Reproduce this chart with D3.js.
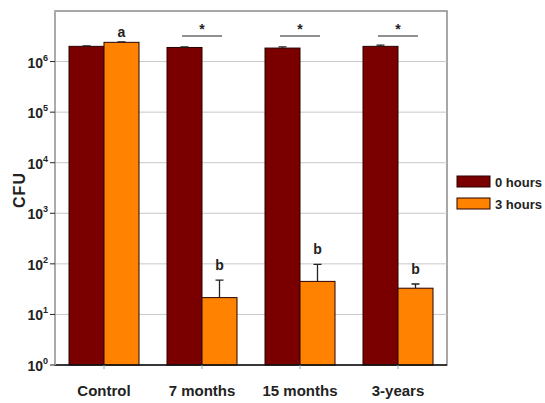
<!DOCTYPE html>
<html><head><meta charset="utf-8">
<script src="https://cdn.jsdelivr.net/npm/d3@7"></script>
<style>body{margin:0;background:#fff;} text{font-family:"Liberation Sans",Arial,sans-serif;}</style>
</head><body>
<svg id="c" width="545" height="403"></svg>
<script>
const categories = ["Control", "7 months", "15 months", "3-years"];
const seriesNames = ["0 hours", "3 hours"];
const hours0 = [2.0e6, 1.9e6, 1.85e6, 2.0e6];
const hours0Err = [0.05e6, 0.04e6, 0.1e6, 0.12e6];
const hours3 = [2.4e6, 21.5, 45, 33];
const hours3Err = [0.05e6, 26, 53, 7];
const letters = ["a", "b", "b", "b"];
const stars = ["", "*", "*", "*"];
const yTickExps = [0, 1, 2, 3, 4, 5, 6];
const colors = ["#7a0000", "#ff8200"];

const svg = d3.select("#c");
const L = 55, R = 447, T = 11, B = 365;
const x = d3.scaleBand().domain(categories).range([L, R]).paddingInner(0.2857).paddingOuter(0.1429);
const xs = d3.scaleBand().domain(seriesNames).range([0, x.bandwidth()]);
const y = d3.scaleLog().domain([1, 1e7]).range([B, T]);

// frame
svg.append("rect").attr("x", L).attr("y", T).attr("width", R - L).attr("height", B - T)
  .attr("fill", "none").attr("stroke", "#8a8a8a").attr("stroke-width", 1.5);
// gridlines
svg.append("g").selectAll("line").data(yTickExps.slice(1)).join("line")
  .attr("x1", L).attr("x2", R).attr("y1", d => y(Math.pow(10, d))).attr("y2", d => y(Math.pow(10, d)))
  .attr("stroke", "#c8c8c8").attr("stroke-width", 1);

// bars
const data = categories.map((c, i) => ({c, vals: [
  {s: seriesNames[0], v: hours0[i], e: hours0Err[i]},
  {s: seriesNames[1], v: hours3[i], e: hours3Err[i]}]}));
const g = svg.append("g").selectAll("g").data(data).join("g").attr("transform", d => `translate(${x(d.c)},0)`);
g.selectAll("rect").data(d => d.vals).join("rect")
  .attr("x", d => xs(d.s)).attr("width", xs.bandwidth())
  .attr("y", d => y(d.v)).attr("height", d => B - y(d.v))
  .attr("fill", (d, i) => colors[i]).attr("stroke", "#2a0000").attr("stroke-width", 1);
// error bars
g.selectAll("path.err").data(d => d.vals).join("path").attr("class", "err")
  .attr("d", d => {
    const cx = xs(d.s) + xs.bandwidth() / 2, y0 = y(d.v), y1 = y(d.v + d.e);
    return `M${cx},${y0}V${y1}M${cx - 4},${y1}H${cx + 4}`;
  }).attr("stroke", "#222").attr("stroke-width", 1.3).attr("fill", "none");

// letters
svg.append("g").selectAll("text").data(categories).join("text")
  .attr("x", c => x(c) + xs(seriesNames[1]) + xs.bandwidth() / 2)
  .attr("y", (c, i) => y(hours3[i] + hours3Err[i]) - (letters[i] === "a" ? 5 : 10))
  .attr("text-anchor", "middle").attr("font-size", 14).attr("font-weight", "bold").attr("fill", "#222")
  .text((c, i) => letters[i]);
// significance lines
const sig = svg.append("g").selectAll("g").data(categories.filter((c, i) => stars[i])).join("g");
sig.append("line").attr("x1", c => x(c) + x.bandwidth() / 2 - 20).attr("x2", c => x(c) + x.bandwidth() / 2 + 20)
  .attr("y1", 36).attr("y2", 36).attr("stroke", "#222").attr("stroke-width", 1.2);
sig.append("text").attr("x", c => x(c) + x.bandwidth() / 2).attr("y", 34)
  .attr("text-anchor", "middle").attr("font-size", 14).attr("font-weight", "bold").attr("fill", "#222").text("*");

// bottom axis
svg.append("line").attr("x1", L).attr("x2", R).attr("y1", B).attr("y2", B).attr("stroke", "#111").attr("stroke-width", 1.5);
svg.append("g").selectAll("line").data(categories).join("line")
  .attr("x1", c => x(c) + x.bandwidth() / 2).attr("x2", c => x(c) + x.bandwidth() / 2)
  .attr("y1", B).attr("y2", B + 4).attr("stroke", "#8aa").attr("stroke-width", 1);
svg.append("g").selectAll("text").data(categories).join("text")
  .attr("x", c => x(c) + x.bandwidth() / 2).attr("y", 396)
  .attr("text-anchor", "middle").attr("font-size", 15).attr("font-weight", "bold").attr("fill", "#222").text(c => c);

// left axis
svg.append("line").attr("x1", L).attr("x2", L).attr("y1", T).attr("y2", B).attr("stroke", "#aaa").attr("stroke-width", 2);
const yt = svg.append("g").selectAll("g").data(yTickExps).join("g")
  .attr("transform", d => `translate(0,${y(Math.pow(10, d))})`);
yt.append("line").attr("x1", L - 5).attr("x2", L).attr("stroke", "#222").attr("stroke-width", 1);
const tt = yt.append("text").attr("x", L - 7).attr("y", 6).attr("text-anchor", "end")
  .attr("font-size", 14).attr("font-weight", "bold").attr("fill", "#222");
tt.append("tspan").text("10");
tt.append("tspan").attr("dy", -7).attr("font-size", 9).text(d => d);

// y title
svg.append("text").attr("transform", "translate(25,190) rotate(-90)").attr("text-anchor", "middle")
  .attr("font-size", 16).attr("font-weight", "bold").attr("fill", "#222").attr("letter-spacing", 1).text("CFU");

// legend
const lg = svg.append("g").selectAll("g").data(seriesNames).join("g")
  .attr("transform", (d, i) => `translate(457,${176 + i * 22})`);
lg.append("rect").attr("width", 33).attr("height", 11).attr("fill", (d, i) => colors[i]).attr("stroke", "#2a0000").attr("stroke-width", 1);
lg.append("text").attr("x", 38).attr("y", 10.5).attr("font-size", 13).attr("font-weight", "bold").attr("fill", "#222").text(d => d);
</script>
</body></html>
